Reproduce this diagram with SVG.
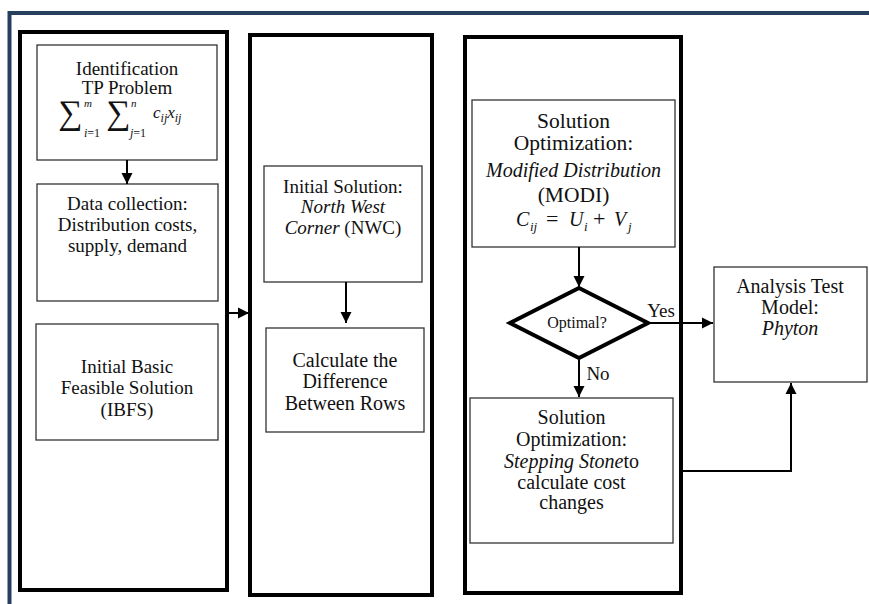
<svg xmlns="http://www.w3.org/2000/svg" width="869" height="604" viewBox="0 0 869 604">
<style>
.panel{fill:none;stroke:#000;stroke-width:4}
.box{fill:#fff;stroke:#333;stroke-width:1.3}
.t{font-family:'Liberation Serif','DejaVu Serif','Noto Serif',serif;font-size:19px;fill:#111;text-anchor:middle}
.big{font-size:20px}
.mb{font-size:21.5px}
.it{font-style:italic}
.con{fill:none;stroke:#000;stroke-width:2}
.math{font-family:'Liberation Serif','DejaVu Serif',serif;fill:#111;font-style:italic}
</style>
<defs>
<marker id="ah" markerUnits="userSpaceOnUse" markerWidth="12" markerHeight="12" refX="11" refY="6" orient="auto">
<path d="M0,0.5 L11,6 L0,11.5 z" fill="#000"/>
</marker>
</defs>
<rect width="869" height="604" fill="#fff"/>
<g id="frame">
<path d="M9.5,604 V13 H869" fill="none" stroke="#263f5c" stroke-width="4"/>
</g>
<g id="panel1"><rect class="panel" x="20" y="32" width="207" height="558"/></g>
<g id="panel2"><rect class="panel" x="250" y="35" width="182" height="560"/></g>
<g id="panel3"><rect class="panel" x="465" y="37" width="216" height="556"/></g>

<g id="identification">
<rect class="box" x="37" y="45" width="180" height="115"/>
<text class="t" x="127" y="75">Identification</text>
<text class="t" x="127" y="94">TP Problem</text>
<text class="math" font-style="normal" font-size="34" x="58" y="124">∑</text>
<text class="math" font-size="11" x="84" y="107">m</text>
<text class="math" font-size="12" x="84" y="137">i<tspan font-style="normal">=1</tspan></text>
<text class="math" font-style="normal" font-size="34" x="106" y="124">∑</text>
<text class="math" font-size="11" x="131" y="107">n</text>
<text class="math" font-size="12" x="130" y="137">j<tspan font-style="normal">=1</tspan></text>
<text class="math" font-size="17" x="153" y="118">c<tspan font-size="12" dy="4">ij</tspan><tspan dy="-4">x</tspan><tspan font-size="12" dy="4">ij</tspan></text>
</g>
<g id="datacollection">
<rect class="box" x="37" y="184" width="181" height="117"/>
<text class="t" x="127.5" y="210">Data collection:</text>
<text class="t" x="127.5" y="231">Distribution costs,</text>
<text class="t" x="127.5" y="252">supply, demand</text>
</g>
<g id="ibfs">
<rect class="box" x="36" y="324" width="182" height="116"/>
<text class="t" x="127" y="373">Initial Basic</text>
<text class="t" x="127" y="394">Feasible Solution</text>
<text class="t" x="127" y="416">(IBFS)</text>
</g>
<g id="nwc">
<rect class="box" x="264" y="166" width="158" height="116"/>
<text class="t" x="343" y="193">Initial Solution:</text>
<text class="t it" x="343" y="213">North West</text>
<text class="t" x="343" y="234"><tspan class="it">Corner</tspan> (NWC)</text>
</g>
<g id="difference">
<rect class="box" x="266" y="328" width="158" height="104"/>
<text class="t big" x="345" y="367">Calculate the</text>
<text class="t big" x="345" y="388">Difference</text>
<text class="t big" x="345" y="410">Between Rows</text>
</g>
<g id="modi">
<rect class="box" x="472" y="100" width="203" height="147"/>
<text class="t mb" x="573.5" y="128">Solution</text>
<text class="t mb" x="573.5" y="150">Optimization:</text>
<text class="t big it" x="573.5" y="177">Modified Distribution</text>
<text class="t mb" x="573.5" y="202">(MODI)</text>
<text class="math" font-size="20"><tspan x="516" y="226">C</tspan><tspan x="530" y="231" font-size="13">ij</tspan><tspan x="546" y="226" font-style="normal" font-size="22">=</tspan><tspan x="569" y="226">U</tspan><tspan x="584" y="231" font-size="13">i</tspan><tspan x="593" y="226" font-style="normal" font-size="22">+</tspan><tspan x="614" y="226">V</tspan><tspan x="628" y="231" font-size="13">j</tspan></text>
</g>
<g id="optimal">
<polygon points="579,288 648,323 579,358 510,323" fill="#fff" stroke="#000" stroke-width="4" stroke-linejoin="miter"/>
<text class="t" x="577" y="328" style="font-size:16px">Optimal?</text>
</g>
<g id="stepping">
<rect class="box" x="470" y="398" width="203" height="145"/>
<text class="t big" x="571.5" y="424">Solution</text>
<text class="t big" x="571.5" y="446">Optimization:</text>
<text class="t big" x="571.5" y="468"><tspan class="it">Stepping Stone</tspan>to</text>
<text class="t big" x="571.5" y="489">calculate cost</text>
<text class="t big" x="571.5" y="509">changes</text>
</g>
<g id="analysis">
<rect class="box" x="714" y="267" width="153" height="115"/>
<text class="t big" x="790" y="293">Analysis Test</text>
<text class="t big" x="790" y="314">Model:</text>
<text class="t big it" x="790" y="335">Phyton</text>
</g>
<g id="connectors">
<line class="con" x1="127" y1="160" x2="127" y2="184" marker-end="url(#ah)"/>
<line class="con" x1="229" y1="313" x2="249" y2="313" marker-end="url(#ah)"/>
<line class="con" x1="346" y1="282" x2="346" y2="323" marker-end="url(#ah)"/>
<line class="con" x1="579" y1="247" x2="579" y2="287" marker-end="url(#ah)"/>
<line class="con" x1="648" y1="323" x2="713" y2="323" marker-end="url(#ah)"/>
<line class="con" x1="579" y1="360" x2="579" y2="397" marker-end="url(#ah)"/>
<polyline class="con" points="681,471 791,471 791,383" marker-end="url(#ah)"/>
<text class="t" x="661" y="317">Yes</text>
<text class="t" x="598" y="380">No</text>
</g>
</svg>
